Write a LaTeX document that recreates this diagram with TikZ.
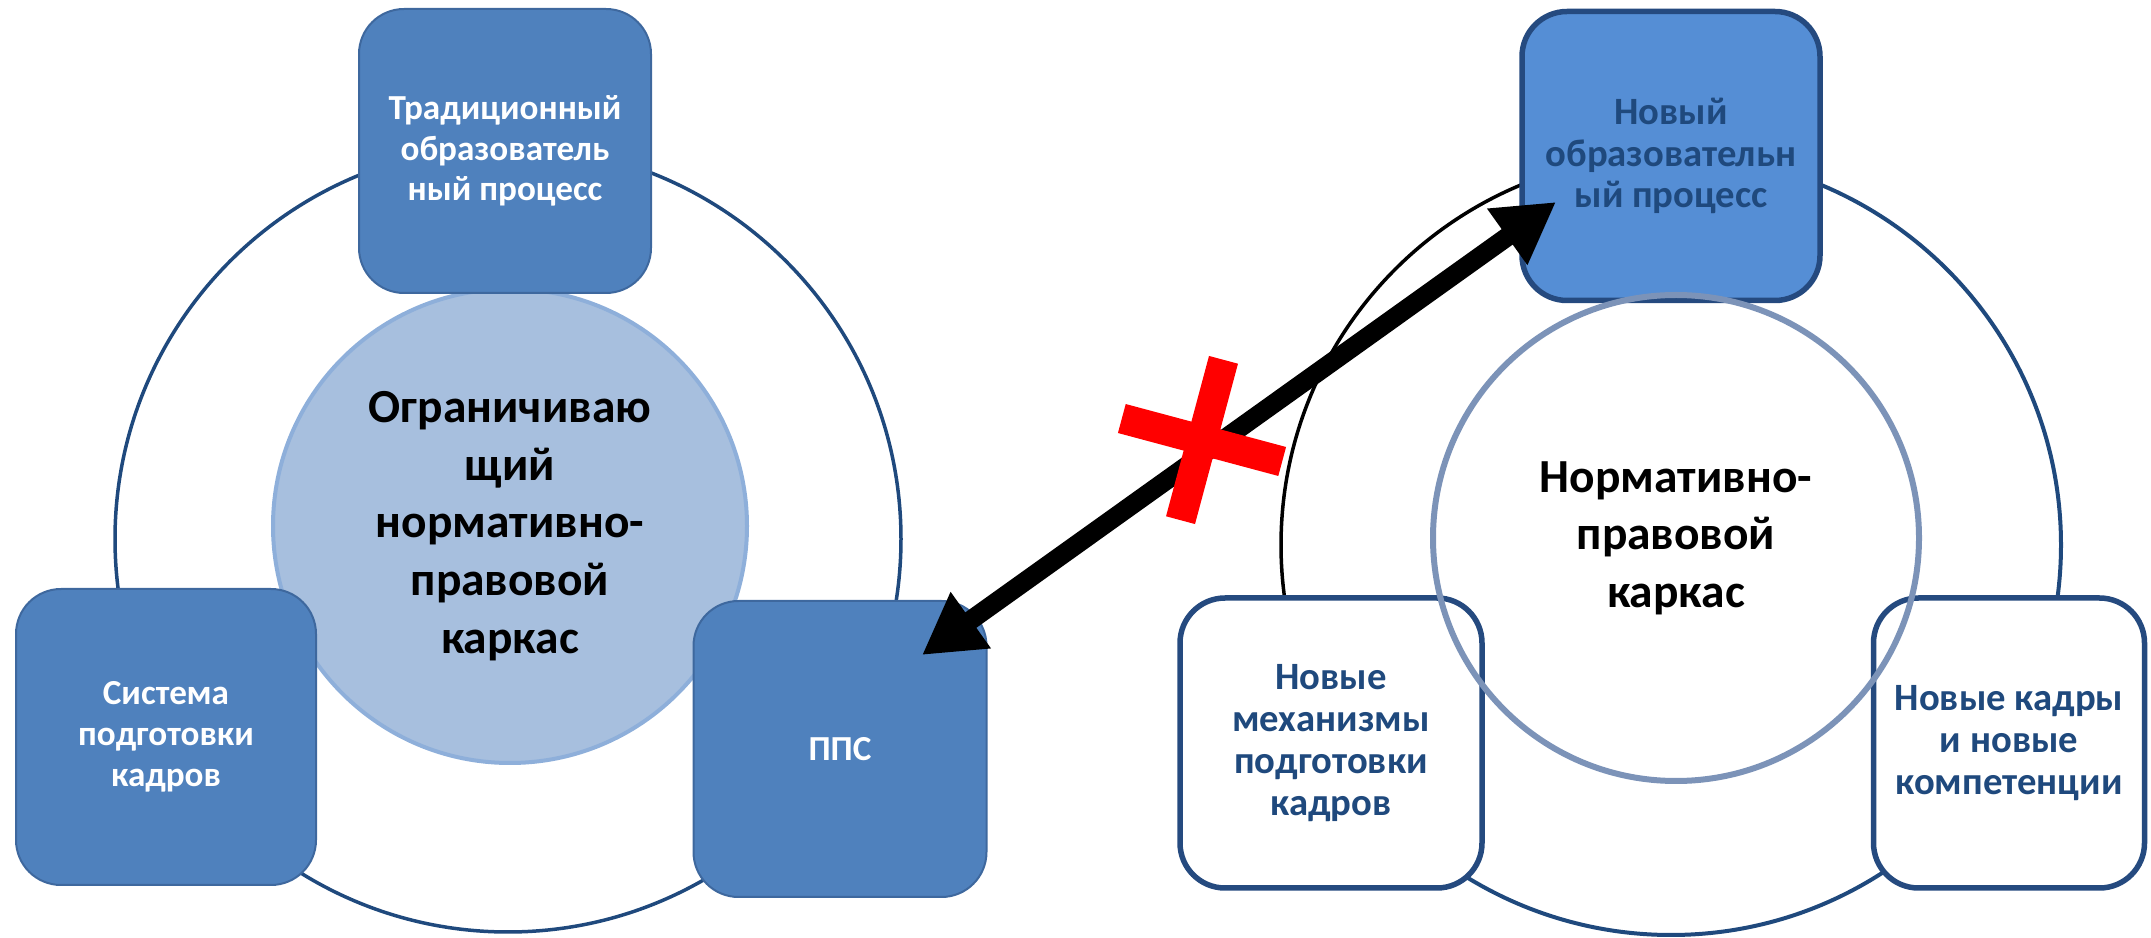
\documentclass[tikz,border=0pt]{standalone}
\usepackage{fontspec}
\setmainfont{Carlito}
\usetikzlibrary{calc,arrows.meta}
\definecolor{boxblue}{RGB}{79,129,189}
\definecolor{boxedge}{RGB}{62,104,158}
\definecolor{ringblue}{RGB}{31,73,125}
\definecolor{discfill}{RGB}{167,191,222}
\definecolor{discedge}{RGB}{142,175,218}
\definecolor{newblue}{RGB}{85,142,213}
\definecolor{navy}{RGB}{37,74,127}
\definecolor{navytext}{RGB}{31,73,125}
\definecolor{greyring}{RGB}{124,147,184}
\begin{document}
\begin{tikzpicture}[x=0.1mm,y=0.1mm,
  box/.style={rectangle,rounded corners=4.5mm,fill=boxblue,draw=boxedge,line width=0.2mm,text=white,align=center,
    font=\bfseries\fontsize{10}{11.6}\selectfont,minimum width=29.5mm,minimum height=29.5mm},
  newbox/.style={box,fill=white,draw=navy,line width=0.55mm,text=navytext,font=\bfseries\fontsize{11}{11.9}\selectfont},
  ring/.style={circle,draw=ringblue,line width=0.35mm,minimum size=78.6mm},
  disc/.style={circle,fill=discfill,draw=discedge,line width=0.4mm,minimum size=47.4mm,align=center,
    font=\bfseries\fontsize{13.5}{16.4}\selectfont},
  link/.style={{Triangle[length=6mm,width=6.5mm]}-{Triangle[length=6mm,width=6.5mm]},line width=1.9mm},
  cross/.style={red,line width=3mm}]
\useasboundingbox (0,0) rectangle (2151,937);

\coordinate (lmid) at (508,398);
\coordinate (rmid) at (1671,392);

\node[ring] (lring) at (lmid) {};
\draw[ringblue,line width=0.4mm] (rmid) ++(90:39mm) arc[start angle=90,end angle=-150,radius=39mm];
\draw[black,line width=0.35mm] (rmid) ++(90:39mm) arc[start angle=90,end angle=215,radius=39mm];

\node[disc] (lc) at ($(lmid)+(2,13)$) {Ограничиваю\\щий\\нормативно-\\правовой\\каркас};
\node[box,minimum width=29.2mm,minimum height=28.4mm] (trad) at ($(lmid)+(-3,388)$) {Традиционный\\образователь\\ный процесс};
\node[box,minimum width=30mm,minimum height=29.6mm] (sys) at ($(lmid)+(-342,-198)$) {Система\\подготовки\\кадров};
\node[box,minimum width=29.3mm,minimum height=29.6mm] (pps) at ($(lmid)+(332,-210)$) {ППС};

\node[newbox,fill=newblue,minimum width=29.8mm,minimum height=28.9mm] (new) at ($(rmid)+(0,389)$) {Новый\\образовательн\\ый процесс};
\node[newbox,minimum width=30.2mm,minimum height=29mm] (mech) at ($(rmid)+(-340,-198)$) {Новые\\механизмы\\подготовки\\кадров};
\node[newbox,minimum width=27.1mm,minimum height=29mm] (staff) at ($(rmid)+(338,-198)$) {Новые кадры\\и новые\\компетенции};
\node[circle,draw=greyring,line width=0.6mm,minimum size=48.6mm] (rc) at ($(rmid)+(5,7)$) {};
\node[align=center,font=\bfseries\fontsize{13.5}{16.4}\selectfont] (rtxt) at (rc) {Нормативно-\\правовой\\каркас};

\coordinate (a1) at ($(pps)+(82,94)$);
\coordinate (a2) at ($(new)+(-115,-46)$);
\draw[link] (a1) -- (a2);

\coordinate (x) at (1202,497);
\begin{scope}[shift={(x)},rotate=-15]
\draw[cross] (-83,0) -- (83,0) (0,-83) -- (0,83);
\end{scope}
\end{tikzpicture}
\end{document}
